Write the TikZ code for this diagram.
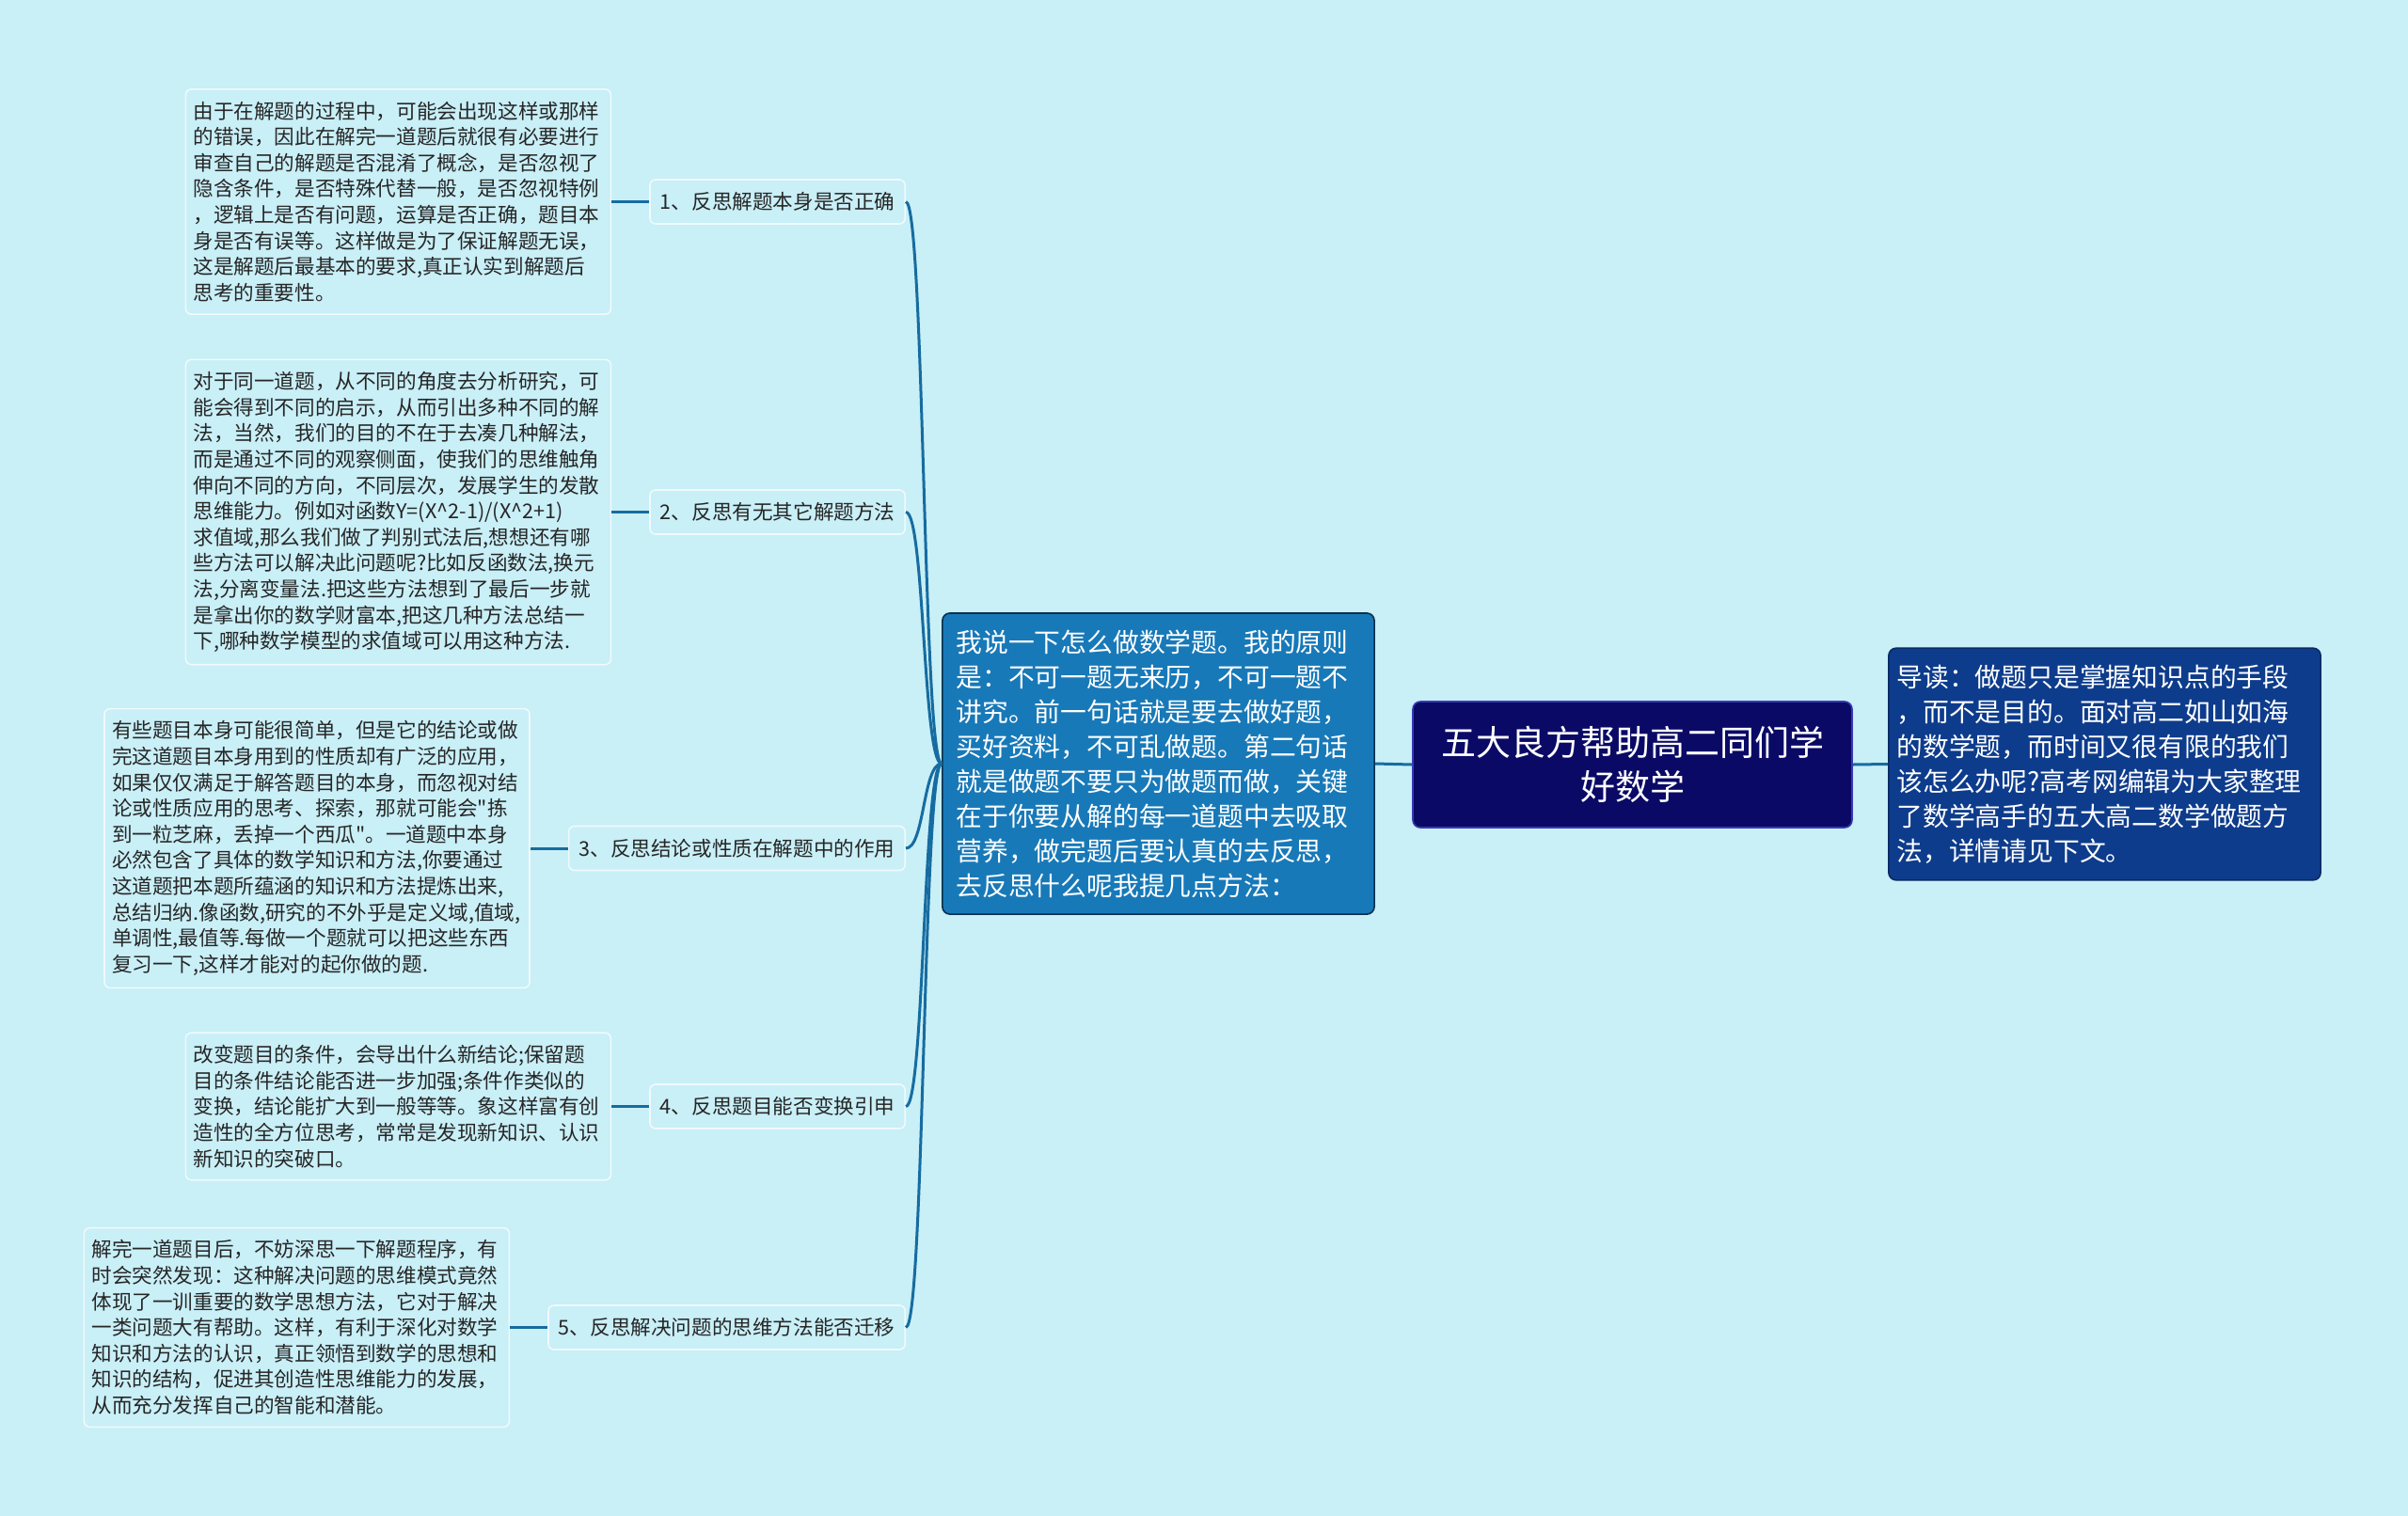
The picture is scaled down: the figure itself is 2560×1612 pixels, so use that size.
\documentclass[tikz,border=0pt]{standalone}
\usepackage{fontspec}
\setmainfont{Noto Sans CJK SC}
\newfontfamily\plaincjk{Noto Sans CJK SC}
\XeTeXlinebreaklocale "zh"
\usepackage{xcolor}
\usepackage{tikz}
\usetikzlibrary{positioning}

\definecolor{bgcol}{RGB}{201,239,247}
\definecolor{linecol}{RGB}{22,108,160}
\definecolor{maincol}{RGB}{24,121,184}
\definecolor{rootcol}{RGB}{10,10,102}
\definecolor{introcol}{RGB}{14,60,140}

\newcommand{\dq}{{\plaincjk"}}

\begin{document}
\begin{tikzpicture}[
        x=0.5pt, y=-0.5pt,
        leaf/.style={
            rectangle,
            draw=white!70!bgcol,
            fill=bgcol,
            thick,
            rounded corners=3pt,
            text width=218pt,
            inner xsep=4pt,
            inner ysep=6.5pt,
            align=left,
            text=black!85,
            font=\fontsize{10.8pt}{13.8pt}\selectfont
        },
        topic/.style={
            rectangle,
            draw=white!70!bgcol,
            fill=bgcol,
            thick,
            rounded corners=3pt,
            inner xsep=5.4pt,
            minimum height=23.5pt,
            anchor=east,
            text=black!85,
            font=\fontsize{10.8pt}{13.8pt}\selectfont
        },
        bigbox/.style={
            rectangle,
            thick,
            rounded corners=4pt,
            text width=215pt,
            inner xsep=7.3pt,
            inner ysep=8.8pt,
            align=left,
            text=white,
            font=\fontsize{13.9pt}{18.5pt}\selectfont
        },
        link/.style={
            draw=linecol,
            line width=1.5pt
        }
    ]
        \fill[bgcol] (0,0) rectangle (2560,1612);
        \useasboundingbox (0,0) rectangle (2560,1612);

        % Nodes
        \node[bigbox, draw=rootcol!60!blue!80!white, fill=rootcol, text width=210pt,
              minimum width=233.5pt, minimum height=67pt, align=center,
              font=\fontsize{18.5pt}{23.7pt}\selectfont] (root) at (1735.5,813)
            {五大良方帮助高二同们学\\好数学};
        \node[bigbox, draw=introcol!70!black, fill=introcol, text width=221pt,
              inner xsep=4.3pt] (intro) at (2237.5,812.5)
            {导读：做题只是掌握知识点的手段\\，而不是目的。面对高二如山如海\\的数学题，而时间又很有限的我们\\该怎么办呢?高考网编辑为大家整理\\了数学高手的五大高二数学做题方\\法，详情请见下文。};
        \node[bigbox, draw=maincol!40!black, fill=maincol] (main) at (1231.5,812)
            {我说一下怎么做数学题。我的原则\\是：不可一题无来历，不可一题不\\讲究。前一句话就是要去做好题，\\买好资料，不可乱做题。第二句话\\就是做题不要只为做题而做，关键\\在于你要从解的每一道题中去吸取\\营养，做完题后要认真的去反思，\\去反思什么呢我提几点方法：};

        \node[topic] (t1) at (963,214.5) {1、反思解题本身是否正确};
        \node[topic] (t2) at (963,544.5) {2、反思有无其它解题方法};
        \node[topic] (t3) at (963,902) {3、反思结论或性质在解题中的作用};
        \node[topic] (t4) at (963,1176.5) {4、反思题目能否变换引申};
        \node[topic] (t5) at (963,1411.5) {5、反思解决问题的思维方法能否迁移};

        \node[leaf, left=20pt of t1] (d1)
            {由于在解题的过程中，可能会出现这样或那样\\的错误，因此在解完一道题后就很有必要进行\\审查自己的解题是否混淆了概念，是否忽视了\\隐含条件，是否特殊代替一般，是否忽视特例\\，逻辑上是否有问题，运算是否正确，题目本\\身是否有误等。这样做是为了保证解题无误，\\这是解题后最基本的要求,真正认实到解题后\\思考的重要性。};
        \node[leaf, left=20pt of t2] (d2)
            {对于同一道题，从不同的角度去分析研究，可\\能会得到不同的启示，从而引出多种不同的解\\法，当然，我们的目的不在于去凑几种解法，\\而是通过不同的观察侧面，使我们的思维触角\\伸向不同的方向，不同层次，发展学生的发散\\思维能力。例如对函数Y=(X\textasciicircum 2-1)/(X\textasciicircum 2+1)\\求值域,那么我们做了判别式法后,想想还有哪\\些方法可以解决此问题呢?比如反函数法,换元\\法,分离变量法.把这些方法想到了最后一步就\\是拿出你的数学财富本,把这几种方法总结一\\下,哪种数学模型的求值域可以用这种方法.};
        \node[leaf, left=20pt of t3] (d3)
            {有些题目本身可能很简单，但是它的结论或做\\完这道题目本身用到的性质却有广泛的应用，\\如果仅仅满足于解答题目的本身，而忽视对结\\论或性质应用的思考、探索，那就可能会\dq 拣\\到一粒芝麻，丢掉一个西瓜\dq 。一道题中本身\\必然包含了具体的数学知识和方法,你要通过\\这道题把本题所蕴涵的知识和方法提炼出来,\\总结归纳.像函数,研究的不外乎是定义域,值域,\\单调性,最值等.每做一个题就可以把这些东西\\复习一下,这样才能对的起你做的题.};
        \node[leaf, left=20pt of t4] (d4)
            {改变题目的条件，会导出什么新结论;保留题\\目的条件结论能否进一步加强;条件作类似的\\变换，结论能扩大到一般等等。象这样富有创\\造性的全方位思考，常常是发现新知识、认识\\新知识的突破口。};
        \node[leaf, left=20pt of t5] (d5)
            {解完一道题目后，不妨深思一下解题程序，有\\时会突然发现：这种解决问题的思维模式竟然\\体现了一训重要的数学思想方法，它对于解决\\一类问题大有帮助。这样，有利于深化对数学\\知识和方法的认识，真正领悟到数学的思想和\\知识的结构，促进其创造性思维能力的发展，\\从而充分发挥自己的智能和潜能。};

        % Edges
        \draw[link] (root.west) -- (main.east);
        \draw[link] (root.east) -- (intro.west);
        \foreach \i in {1,...,5} {
            \draw[link] (main.west) .. controls +(-20,0) and +(20,0) .. (t\i.east);
            \draw[link] (t\i.west) -- (d\i.east);
        }
    \end{tikzpicture}
\end{document}
